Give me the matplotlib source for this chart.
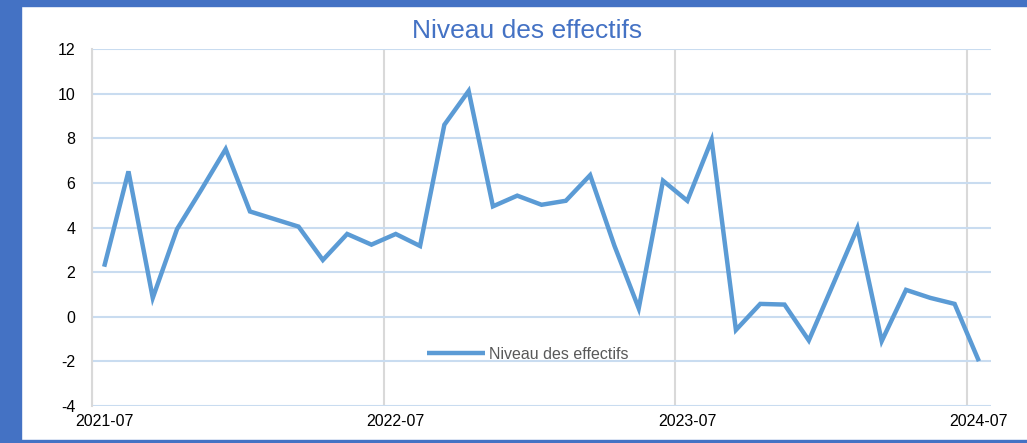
import matplotlib.pyplot as plt
import matplotlib.patches as mpatches
import pandas as pd

# monthly series, July 2021 -> July 2024
months = pd.period_range('2021-07', periods=37, freq='M')
values = [2.24, 6.52, 0.84, 3.93, 5.7, 7.52, 4.72, 4.38, 4.04, 2.54,
          3.71, 3.23, 3.71, 3.17, 8.61, 10.13, 4.95, 5.43, 5.02, 5.2,
          6.35, 3.18, 0.37, 6.1, 5.2, 7.93, -0.6, 0.57, 0.54, -1.07,
          1.45, 3.98, -1.1, 1.2, 0.84, 0.57, -2.0]
series_name = 'Niveau des effectifs'
y_ticks = [-4, -2, 0, 2, 4, 6, 8, 10, 12]

plt.rcParams['font.family'] = ['Liberation Sans', 'DejaVu Sans']
plt.rcParams['axes.unicode_minus'] = False

fig = plt.figure(figsize=(10.27, 4.43), dpi=100)
ax = fig.add_axes([0.0896, 0.0842, 0.8754, 0.8045])

# points sit in the middle of each month
x = [i + 0.5 for i in range(len(months))]
ax.plot(x, values, color='#5B9BD5', lw=3.2, label=series_name,
        solid_joinstyle='miter', solid_capstyle='butt')

ax.set_xlim(0, len(months))
ax.set_ylim(y_ticks[0], y_ticks[-1])
ax.set_yticks(y_ticks)

# labels every 12 months, vertical gridlines at start of those months
label_idx = list(range(0, len(months), 12))
ax.set_xticks([x[i] for i in label_idx])
ax.set_xticklabels([months[i].strftime('%Y-%m') for i in label_idx])
ax.set_xticks(label_idx, minor=True)
ax.grid(axis='x', which='minor', color='#D9D9D9', lw=1.5)
ax.grid(axis='y', which='major', color='#C9DCF0', lw=1.5)
ax.set_axisbelow(True)
ax.tick_params(which='both', length=0, labelsize=11.5, colors='black')
ax.tick_params(axis='y', pad=12)
ax.tick_params(axis='x', pad=6)

for s in ['top', 'right', 'bottom']:
    ax.spines[s].set_visible(False)
ax.spines['left'].set_color('#D9D9D9')
ax.spines['left'].set_linewidth(1.5)

fig.text(0.5128, 0.931, series_name, ha='center', va='center',
         fontsize=19, color='#4472C4')

leg = ax.legend(loc='center', bbox_to_anchor=(0.485, 0.145), frameon=False,
                fontsize=11.5, handlelength=3.6, handletextpad=0.3)
for t in leg.get_texts():
    t.set_color('#595959')

# blue frame around the chart
frame = '#4472C4'
fig.patches.append(mpatches.Rectangle((0, 0), 0.0205, 1, transform=fig.transFigure,
                                      color=frame, zorder=0))
fig.patches.append(mpatches.Rectangle((0, 0.986), 1, 0.014, transform=fig.transFigure,
                                      color=frame, zorder=0))
fig.patches.append(mpatches.Rectangle((0, 0), 1, 0.0068, transform=fig.transFigure,
                                      color=frame, zorder=0))

fig.savefig('out.png', dpi=100)
